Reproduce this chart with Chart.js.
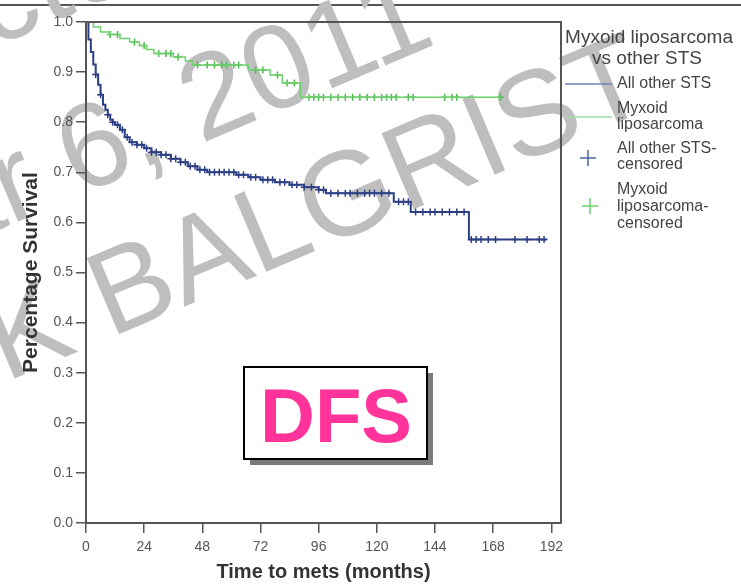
<!DOCTYPE html>
<html>
<head>
<meta charset="utf-8">
<script src="https://cdn.jsdelivr.net/npm/chart.js@4.4.0/dist/chart.umd.min.js"></script>
<style>
    html, body { margin: 0; padding: 0; background: #fff; }
    #wrap { width: 741px; height: 586px; }
</style>
</head>
<body>
<div id="wrap"><canvas id="kmChart" width="741" height="586"></canvas></div>
<script>
// Kaplan-Meier steps (months, survival after the step)
const BLUE_TIME = [0, 1, 2, 3, 4, 5, 6, 7, 8, 9, 10, 11, 12, 14, 16, 18, 21, 24, 27, 31, 35, 39, 42, 46, 50, 62, 67, 72, 78, 84, 90, 96, 99, 127, 134, 158, 190];
const BLUE_SURV = [1.0, 0.965, 0.94, 0.915, 0.895, 0.875, 0.855, 0.835, 0.825, 0.815, 0.805, 0.80, 0.795, 0.785, 0.77, 0.76, 0.755, 0.748, 0.74, 0.735, 0.727, 0.72, 0.712, 0.705, 0.70, 0.695, 0.69, 0.685, 0.68, 0.675, 0.67, 0.665, 0.658, 0.641, 0.621, 0.566, 0.566];

const GREEN_TIME = [0, 3, 6, 10, 14, 18, 22, 25, 28, 36, 41, 44, 67, 76, 81, 88.5, 171];
const GREEN_SURV = [1.0, 0.99, 0.98, 0.975, 0.967, 0.96, 0.953, 0.945, 0.937, 0.93, 0.922, 0.914, 0.904, 0.894, 0.878, 0.85, 0.85];

// censoring times (the little + marks on each curve)
const BLUE_CENSOR = [4, 6, 9, 11, 13, 15, 17, 19, 21, 23, 25, 27, 29, 31, 33, 35, 37, 39, 41, 43, 45, 47, 49, 51, 53, 55, 57, 59, 61, 63, 65, 68, 70, 73, 75, 77, 80, 82, 85, 87, 90, 93, 96, 98, 101, 104, 107, 109, 112, 115, 117, 119, 122, 125, 129, 131, 133, 136, 139, 142, 144, 147, 150, 153, 156, 159, 161, 163, 166, 169, 177, 182, 187, 189];
const GREEN_CENSOR = [10, 13, 20, 24, 30, 33, 35, 38, 46, 50, 53, 56, 58, 61, 63, 70, 73, 79, 83, 86, 92, 94, 96, 98, 101, 104, 107, 110, 113, 116, 119, 122, 124, 126, 128, 133, 135, 148, 151, 153, 171];

const X_TICKS = [0, 24, 48, 72, 96, 120, 144, 168, 192];
const Y_TICKS = [0, 0.1, 0.2, 0.3, 0.4, 0.5, 0.6, 0.7, 0.8, 0.9, 1.0];

const BLUE = '#2c3f84';
const GREEN = '#6cd06c';
const FONT = '"Liberation Sans", Arial, sans-serif';

// survival value of a KM curve at time t (last step at or before t)
function survAt(times, surv, t) {
    let v = surv[0];
    for (let i = 0; i < times.length; i++) {
        if (times[i] <= t) v = surv[i];
    }
    return v;
}

function toPoints(times, surv) {
    return times.map((t, i) => ({ x: t, y: surv[i] }));
}

function censorPoints(list, times, surv) {
    return list.map(t => ({ x: t, y: survAt(times, surv, t) }));
}

function drawCross(ctx, x, y, r, color) {
    ctx.save();
    ctx.strokeStyle = color;
    ctx.lineWidth = 1.5;
    ctx.beginPath();
    ctx.moveTo(x - r, y); ctx.lineTo(x + r, y);
    ctx.moveTo(x, y - r); ctx.lineTo(x, y + r);
    ctx.stroke();
    ctx.restore();
}

// white page, rule at the very top, grey diagonal watermark underneath everything
const pagePlugin = {
    id: 'page',
    beforeDraw(chart) {
        const ctx = chart.ctx;
        ctx.save();
        ctx.fillStyle = '#fff';
        ctx.fillRect(0, 0, chart.width, chart.height);
        ctx.strokeStyle = '#555';
        ctx.lineWidth = 2;
        ctx.beginPath();
        ctx.moveTo(0, 5); ctx.lineTo(chart.width, 5);
        ctx.stroke();

        const ang = -23 * Math.PI / 180;
        ctx.fillStyle = 'rgb(190,190,190)';
        ctx.font = '120px ' + FONT;
        ctx.textBaseline = 'alphabetic';
        const lines = [
            { pre: 'Prote', txt: 'cted', x: -8, y: 48 },
            { pre: 'Mar ', txt: '6, 2011', x: 78, y: 196 },
            { pre: 'UNIVERSITÄTSKLINIK ', txt: 'BALGRIST', x: 110, y: 338 }
        ];
        lines.forEach(l => {
            ctx.save();
            ctx.translate(l.x, l.y);
            ctx.rotate(ang);
            ctx.fillText(l.txt, 0, 0);
            ctx.fillText(l.pre, -ctx.measureText(l.pre).width, 0);
            ctx.restore();
        });
        ctx.restore();
    }
};

// box round the plot area, legend, DFS label
const overlayPlugin = {
    id: 'overlay',
    afterDatasetsDraw(chart) {
        const ctx = chart.ctx;
        const a = chart.chartArea;
        ctx.save();
        ctx.strokeStyle = '#555';
        ctx.lineWidth = 2;
        ctx.beginPath();
        ctx.moveTo(a.left, a.top); ctx.lineTo(a.right, a.top); ctx.lineTo(a.right, a.bottom);
        ctx.stroke();
        ctx.restore();
    },
    afterDraw(chart) {
        const ctx = chart.ctx;
        ctx.save();

        // legend
        ctx.fillStyle = '#444';
        ctx.textBaseline = 'middle';
        ctx.textAlign = 'center';
        ctx.font = '19px ' + FONT;
        ctx.fillText('Myxoid liposarcoma', 649, 38);
        ctx.fillText('vs other STS', 647, 59);

        ctx.textAlign = 'left';
        ctx.font = '16px ' + FONT;
        ctx.lineWidth = 1.5;
        ctx.strokeStyle = '#6b7fb5';
        ctx.beginPath(); ctx.moveTo(565, 84); ctx.lineTo(612, 84); ctx.stroke();
        ctx.fillText('All other STS', 617, 84);

        ctx.strokeStyle = '#a3dca3';
        ctx.beginPath(); ctx.moveTo(565, 117); ctx.lineTo(612, 117); ctx.stroke();
        ctx.fillText('Myxoid', 617, 109);
        ctx.fillText('liposarcoma', 617, 125);

        drawCross(ctx, 588, 158, 8, '#4a64a8');
        ctx.fillText('All other STS-', 617, 149);
        ctx.fillText('censored', 617, 165);

        drawCross(ctx, 590, 206, 8, '#6dd06d');
        ctx.fillText('Myxoid', 617, 190);
        ctx.fillText('liposarcoma-', 617, 207);
        ctx.fillText('censored', 617, 224);

        // DFS label box
        ctx.fillStyle = '#7a7a7a';
        ctx.fillRect(250, 373, 183, 92);
        ctx.fillStyle = '#fff';
        ctx.fillRect(244, 367, 183, 92);
        ctx.strokeStyle = '#000';
        ctx.lineWidth = 2;
        ctx.strokeRect(244, 367, 183, 92);
        ctx.fillStyle = '#ff3399';
        ctx.font = 'bold 76px ' + FONT;
        ctx.textAlign = 'center';
        ctx.textBaseline = 'alphabetic';
        ctx.fillText('DFS', 336, 442);

        ctx.restore();
    }
};

const ctx = document.getElementById('kmChart').getContext('2d');

new Chart(ctx, {
    type: 'line',
    data: {
        datasets: [
            {
                label: 'Myxoid liposarcoma',
                data: toPoints(GREEN_TIME, GREEN_SURV),
                stepped: true,
                borderColor: GREEN,
                borderWidth: 1.5,
                pointRadius: 0,
                fill: false
            },
            {
                label: 'All other STS',
                data: toPoints(BLUE_TIME, BLUE_SURV),
                stepped: true,
                borderColor: BLUE,
                borderWidth: 2,
                pointRadius: 0,
                fill: false
            },
            {
                label: 'Myxoid liposarcoma-censored',
                data: censorPoints(GREEN_CENSOR, GREEN_TIME, GREEN_SURV),
                showLine: false,
                pointStyle: 'cross',
                pointRadius: 3.5,
                pointBorderWidth: 1.5,
                borderColor: '#4fb84f'
            },
            {
                label: 'All other STS-censored',
                data: censorPoints(BLUE_CENSOR, BLUE_TIME, BLUE_SURV),
                showLine: false,
                pointStyle: 'cross',
                pointRadius: 3.5,
                pointBorderWidth: 1.5,
                borderColor: BLUE
            }
        ]
    },
    options: {
        responsive: false,
        animation: false,
        devicePixelRatio: 1,
        layout: { padding: { top: 22, right: 180, left: 0, bottom: 0 } },
        plugins: {
            legend: { display: false },
            tooltip: { enabled: false }
        },
        scales: {
            x: {
                type: 'linear',
                min: 0,
                max: 196,
                afterBuildTicks: s => { s.ticks = X_TICKS.map(v => ({ value: v })); },
                afterFit: s => { s.height = 63; },
                ticks: {
                    color: '#555',
                    font: { family: FONT, size: 14 },
                    padding: 6,
                    maxRotation: 0,
                    autoSkip: false
                },
                grid: { display: true, drawOnChartArea: false, drawTicks: true, tickLength: 10, color: '#555', lineWidth: 1.5 },
                border: { display: true, color: '#555', width: 2 },
                title: {
                    display: true,
                    text: 'Time to mets (months)',
                    color: '#333',
                    font: { family: FONT, size: 20, weight: 'bold' },
                    padding: { top: 0, bottom: 2 }
                }
            },
            y: {
                type: 'linear',
                min: 0,
                max: 1,
                afterBuildTicks: s => { s.ticks = Y_TICKS.map(v => ({ value: v })); },
                afterFit: s => { s.width = 86; },
                ticks: {
                    color: '#555',
                    font: { family: FONT, size: 14 },
                    padding: 3,
                    callback: v => v.toFixed(1)
                },
                grid: { display: true, drawOnChartArea: false, drawTicks: true, tickLength: 10, color: '#555', lineWidth: 1.5 },
                border: { display: true, color: '#555', width: 2 },
                title: {
                    display: true,
                    text: 'Percentage Survival',
                    color: '#333',
                    font: { family: FONT, size: 21, weight: 'bold' },
                    padding: { top: 19, bottom: 0 }
                }
            }
        }
    },
    plugins: [pagePlugin, overlayPlugin]
});
</script>
</body>
</html>
